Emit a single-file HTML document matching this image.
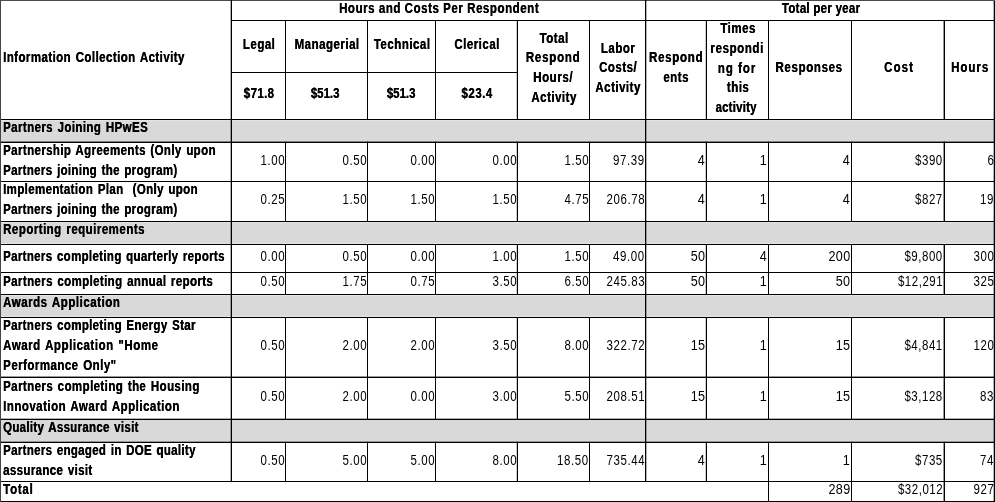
<!DOCTYPE html>
<html><head><meta charset="utf-8"><title>Burden table</title>
<style>
html,body{margin:0;padding:0;background:#fff}
body{width:995px;height:502px;position:relative;overflow:hidden;font-family:"Liberation Sans",sans-serif;font-size:14px;color:#000}
.r{position:absolute}
.t{position:absolute;white-space:nowrap;line-height:20px;height:20px}
.b{font-weight:bold;letter-spacing:0.62px;text-shadow:0.35px 0 0 #000}
.n{font-weight:normal;letter-spacing:0.75px}
.c{text-align:center}
.w{word-spacing:1.2px}
</style></head><body>
<svg class="r" style="left:0;top:0" width="995" height="502" viewBox="0 0 995 502"><rect x="0" y="120.3" width="995" height="21.7" fill="#d9d9d9"/>
<rect x="0" y="222.3" width="995" height="21.4" fill="#d9d9d9"/>
<rect x="0" y="295.3" width="995" height="21.4" fill="#d9d9d9"/>
<rect x="0" y="419.5" width="995" height="22.5" fill="#d9d9d9"/>
<rect x="0" y="0" width="995" height="1" fill="#4c4c4c"/>
<rect x="0" y="119" width="995" height="1" fill="#000"/>
<rect x="0" y="141.6" width="995" height="1.4" fill="#000"/>
<rect x="0" y="181" width="995" height="1" fill="#000"/>
<rect x="0" y="221" width="995" height="1" fill="#000"/>
<rect x="0" y="244" width="995" height="1" fill="#000"/>
<rect x="0" y="272" width="995" height="1" fill="#000"/>
<rect x="0" y="294" width="995" height="1" fill="#000"/>
<rect x="0" y="317" width="995" height="1" fill="#000"/>
<rect x="0" y="376.6" width="995" height="1.4" fill="#000"/>
<rect x="0" y="418.7" width="995" height="1.3" fill="#000"/>
<rect x="0" y="441.7" width="995" height="1.3" fill="#000"/>
<rect x="0" y="481" width="995" height="1" fill="#000"/>
<rect x="0" y="501" width="995" height="1" fill="#000"/>
<rect x="231" y="20" width="764" height="1" fill="#000"/>
<rect x="231" y="72" width="287" height="1" fill="#000"/>
<rect x="0" y="0" width="1" height="502" fill="#444"/>
<rect x="993.7" y="1" width="1.3" height="501" fill="#000"/>
<rect x="230.7" y="0" width="1.3" height="482" fill="#000"/>
<rect x="645" y="0" width="1.3" height="482" fill="#000"/>
<rect x="285" y="20" width="1" height="100" fill="#000"/>
<rect x="285" y="141.6" width="1" height="40.4" fill="#000"/>
<rect x="285" y="181" width="1" height="41" fill="#000"/>
<rect x="285" y="244" width="1" height="29" fill="#000"/>
<rect x="285" y="272" width="1" height="23" fill="#000"/>
<rect x="285" y="317" width="1" height="60.6" fill="#000"/>
<rect x="285" y="376.6" width="1" height="43.2" fill="#000"/>
<rect x="285" y="441.8" width="1" height="40.2" fill="#000"/>
<rect x="367" y="20" width="1" height="100" fill="#000"/>
<rect x="367" y="141.6" width="1" height="40.4" fill="#000"/>
<rect x="367" y="181" width="1" height="41" fill="#000"/>
<rect x="367" y="244" width="1" height="29" fill="#000"/>
<rect x="367" y="272" width="1" height="23" fill="#000"/>
<rect x="367" y="317" width="1" height="60.6" fill="#000"/>
<rect x="367" y="376.6" width="1" height="43.2" fill="#000"/>
<rect x="367" y="441.8" width="1" height="40.2" fill="#000"/>
<rect x="435" y="20" width="1" height="100" fill="#000"/>
<rect x="435" y="141.6" width="1" height="40.4" fill="#000"/>
<rect x="435" y="181" width="1" height="41" fill="#000"/>
<rect x="435" y="244" width="1" height="29" fill="#000"/>
<rect x="435" y="272" width="1" height="23" fill="#000"/>
<rect x="435" y="317" width="1" height="60.6" fill="#000"/>
<rect x="435" y="376.6" width="1" height="43.2" fill="#000"/>
<rect x="435" y="441.8" width="1" height="40.2" fill="#000"/>
<rect x="516.8" y="20" width="1.2" height="100" fill="#000"/>
<rect x="516.8" y="141.6" width="1.2" height="40.4" fill="#000"/>
<rect x="516.8" y="181" width="1.2" height="41" fill="#000"/>
<rect x="516.8" y="244" width="1.2" height="29" fill="#000"/>
<rect x="516.8" y="272" width="1.2" height="23" fill="#000"/>
<rect x="516.8" y="317" width="1.2" height="60.6" fill="#000"/>
<rect x="516.8" y="376.6" width="1.2" height="43.2" fill="#000"/>
<rect x="516.8" y="441.8" width="1.2" height="40.2" fill="#000"/>
<rect x="589" y="20" width="1" height="100" fill="#000"/>
<rect x="589" y="141.6" width="1" height="40.4" fill="#000"/>
<rect x="589" y="181" width="1" height="41" fill="#000"/>
<rect x="589" y="244" width="1" height="29" fill="#000"/>
<rect x="589" y="272" width="1" height="23" fill="#000"/>
<rect x="589" y="317" width="1" height="60.6" fill="#000"/>
<rect x="589" y="376.6" width="1" height="43.2" fill="#000"/>
<rect x="589" y="441.8" width="1" height="40.2" fill="#000"/>
<rect x="705.8" y="20" width="1.2" height="100" fill="#000"/>
<rect x="705.8" y="141.6" width="1.2" height="40.4" fill="#000"/>
<rect x="705.8" y="181" width="1.2" height="41" fill="#000"/>
<rect x="705.8" y="244" width="1.2" height="29" fill="#000"/>
<rect x="705.8" y="272" width="1.2" height="23" fill="#000"/>
<rect x="705.8" y="317" width="1.2" height="60.6" fill="#000"/>
<rect x="705.8" y="376.6" width="1.2" height="43.2" fill="#000"/>
<rect x="705.8" y="441.8" width="1.2" height="40.2" fill="#000"/>
<rect x="768" y="20" width="1" height="100" fill="#000"/>
<rect x="768" y="141.6" width="1" height="40.4" fill="#000"/>
<rect x="768" y="181" width="1" height="41" fill="#000"/>
<rect x="768" y="244" width="1" height="29" fill="#000"/>
<rect x="768" y="272" width="1" height="23" fill="#000"/>
<rect x="768" y="317" width="1" height="60.6" fill="#000"/>
<rect x="768" y="376.6" width="1" height="43.2" fill="#000"/>
<rect x="768" y="441.8" width="1" height="40.2" fill="#000"/>
<rect x="851" y="20" width="1" height="100" fill="#000"/>
<rect x="851" y="141.6" width="1" height="40.4" fill="#000"/>
<rect x="851" y="181" width="1" height="41" fill="#000"/>
<rect x="851" y="244" width="1" height="29" fill="#000"/>
<rect x="851" y="272" width="1" height="23" fill="#000"/>
<rect x="851" y="317" width="1" height="60.6" fill="#000"/>
<rect x="851" y="376.6" width="1" height="43.2" fill="#000"/>
<rect x="851" y="441.8" width="1" height="40.2" fill="#000"/>
<rect x="943.6" y="20" width="1.4" height="100" fill="#000"/>
<rect x="943.6" y="141.6" width="1.4" height="40.4" fill="#000"/>
<rect x="943.6" y="181" width="1.4" height="41" fill="#000"/>
<rect x="943.6" y="244" width="1.4" height="29" fill="#000"/>
<rect x="943.6" y="272" width="1.4" height="23" fill="#000"/>
<rect x="943.6" y="317" width="1.4" height="60.6" fill="#000"/>
<rect x="943.6" y="376.6" width="1.4" height="43.2" fill="#000"/>
<rect x="943.6" y="441.8" width="1.4" height="40.2" fill="#000"/>
<rect x="768" y="481" width="1" height="21" fill="#000"/>
<rect x="851" y="481" width="1" height="21" fill="#000"/>
<rect x="943.6" y="481" width="1.4" height="21" fill="#000"/></svg>
<span class="t b c" style="left:289.08px;top:-2px;width:300px;letter-spacing:0.69px;transform:scaleX(0.82);transform-origin:50% 0">Hours and Costs Per Respondent</span>
<span class="t b c" style="left:670.54px;top:-2px;width:300px;letter-spacing:0.34px;transform:scaleX(0.82);transform-origin:50% 0">Total per year</span>
<span class="t b c" style="left:108.75px;top:34px;width:300px;transform:scaleX(0.82);transform-origin:50% 0">Legal</span>
<span class="t b c" style="left:176.75px;top:34px;width:300px;transform:scaleX(0.82);transform-origin:50% 0">Managerial</span>
<span class="t b c" style="left:251.75px;top:34px;width:300px;transform:scaleX(0.82);transform-origin:50% 0">Technical</span>
<span class="t b c" style="left:326.75px;top:34px;width:300px;transform:scaleX(0.82);transform-origin:50% 0">Clerical</span>
<span class="t b c" style="left:109.2px;top:83px;width:300px;letter-spacing:0.5px;transform:scaleX(0.82);transform-origin:50% 0">$71.8</span>
<span class="t b c" style="left:175.48px;top:83px;width:300px;letter-spacing:-0.05px;transform:scaleX(0.82);transform-origin:50% 0">$51.3</span>
<span class="t b c" style="left:251.48px;top:83px;width:300px;letter-spacing:-0.05px;transform:scaleX(0.82);transform-origin:50% 0">$51.3</span>
<span class="t b c" style="left:326.75px;top:83px;width:300px;letter-spacing:0.62px;transform:scaleX(0.82);transform-origin:50% 0">$23.4</span>
<span class="t b c" style="left:403.55px;top:28px;width:300px;transform:scaleX(0.82);transform-origin:50% 0">Total</span>
<span class="t b c" style="left:403.39px;top:47px;width:300px;letter-spacing:0.95px;transform:scaleX(0.82);transform-origin:50% 0">Respond</span>
<span class="t b c" style="left:402.89px;top:67px;width:300px;letter-spacing:0.7px;transform:scaleX(0.82);transform-origin:50% 0">Hours/</span>
<span class="t b c" style="left:403.75px;top:87px;width:300px;transform:scaleX(0.82);transform-origin:50% 0">Activity</span>
<span class="t b c" style="left:467.75px;top:38px;width:300px;transform:scaleX(0.82);transform-origin:50% 0">Labor</span>
<span class="t b c" style="left:467.75px;top:57px;width:300px;transform:scaleX(0.82);transform-origin:50% 0">Costs/</span>
<span class="t b c" style="left:467.75px;top:77px;width:300px;transform:scaleX(0.82);transform-origin:50% 0">Activity</span>
<span class="t b c" style="left:526.37px;top:47px;width:300px;letter-spacing:0.9px;transform:scaleX(0.82);transform-origin:50% 0">Respond</span>
<span class="t b c" style="left:526.25px;top:67px;width:300px;transform:scaleX(0.82);transform-origin:50% 0">ents</span>
<span class="t b c" style="left:587.75px;top:18px;width:300px;transform:scaleX(0.82);transform-origin:50% 0">Times</span>
<span class="t b c" style="left:587.11px;top:38px;width:300px;letter-spacing:0.75px;transform:scaleX(0.82);transform-origin:50% 0">respondi</span>
<span class="t b c" style="left:586.79px;top:58px;width:300px;letter-spacing:1.2px;transform:scaleX(0.82);transform-origin:50% 0">ng for</span>
<span class="t b c" style="left:587.75px;top:77px;width:300px;transform:scaleX(0.82);transform-origin:50% 0">this</span>
<span class="t b c" style="left:586.4px;top:97px;width:300px;letter-spacing:0.25px;transform:scaleX(0.82);transform-origin:50% 0">activity</span>
<span class="t b c" style="left:659.24px;top:57px;width:300px;letter-spacing:0.82px;transform:scaleX(0.82);transform-origin:50% 0">Responses</span>
<span class="t b c" style="left:748.57px;top:57px;width:300px;letter-spacing:1.4px;transform:scaleX(0.82);transform-origin:50% 0">Cost</span>
<span class="t b c" style="left:819.89px;top:57px;width:300px;letter-spacing:1.2px;transform:scaleX(0.82);transform-origin:50% 0">Hours</span>
<span class="t b w" style="left:3.4px;top:47px;letter-spacing:0.538px;transform:scaleX(0.82);transform-origin:0 0">Information Collection Activity</span>
<span class="t b w" style="left:3.4px;top:117px;letter-spacing:0.502px;transform:scaleX(0.82);transform-origin:0 0">Partners Joining HPwES</span>
<span class="t b w" style="left:3.4px;top:140px;letter-spacing:0.487px;transform:scaleX(0.82);transform-origin:0 0">Partnership Agreements (Only upon</span>
<span class="t b w" style="left:3.4px;top:160px;letter-spacing:0.423px;transform:scaleX(0.82);transform-origin:0 0">Partners joining the program)</span>
<span class="t b w" style="left:3.4px;top:179px;letter-spacing:0.457px;transform:scaleX(0.82);transform-origin:0 0">Implementation Plan&nbsp; (Only upon</span>
<span class="t b w" style="left:3.4px;top:199px;letter-spacing:0.423px;transform:scaleX(0.82);transform-origin:0 0">Partners joining the program)</span>
<span class="t b w" style="left:3.4px;top:219px;letter-spacing:0.593px;transform:scaleX(0.82);transform-origin:0 0">Reporting requirements</span>
<span class="t b w" style="left:3.4px;top:246px;letter-spacing:0.418px;transform:scaleX(0.82);transform-origin:0 0">Partners completing quarterly reports</span>
<span class="t b w" style="left:3.4px;top:271px;letter-spacing:0.474px;transform:scaleX(0.82);transform-origin:0 0">Partners completing annual reports</span>
<span class="t b w" style="left:3.4px;top:292px;letter-spacing:0.657px;transform:scaleX(0.82);transform-origin:0 0">Awards Application</span>
<span class="t b w" style="left:3.4px;top:315px;letter-spacing:0.437px;transform:scaleX(0.82);transform-origin:0 0">Partners completing Energy Star</span>
<span class="t b w" style="left:3.4px;top:335px;letter-spacing:0.676px;transform:scaleX(0.82);transform-origin:0 0">Award Application "Home</span>
<span class="t b w" style="left:3.4px;top:355px;letter-spacing:0.583px;transform:scaleX(0.82);transform-origin:0 0">Performance Only"</span>
<span class="t b w" style="left:3.4px;top:376px;letter-spacing:0.518px;transform:scaleX(0.82);transform-origin:0 0">Partners completing the Housing</span>
<span class="t b w" style="left:3.4px;top:396px;letter-spacing:0.599px;transform:scaleX(0.82);transform-origin:0 0">Innovation Award Application</span>
<span class="t b w" style="left:3.4px;top:417px;letter-spacing:0.371px;transform:scaleX(0.82);transform-origin:0 0">Quality Assurance visit</span>
<span class="t b w" style="left:3.4px;top:440px;letter-spacing:0.396px;transform:scaleX(0.82);transform-origin:0 0">Partners engaged in DOE quality</span>
<span class="t b w" style="left:3.4px;top:460px;letter-spacing:0.446px;transform:scaleX(0.82);transform-origin:0 0">assurance visit</span>
<span class="t b w" style="left:3.4px;top:479px;letter-spacing:0.925px;transform:scaleX(0.82);transform-origin:0 0">Total</span>
<span class="t n" style="right:709.78px;top:150px;transform:scaleX(0.82);transform-origin:100% 0">1.00</span>
<span class="t n" style="right:627.78px;top:150px;transform:scaleX(0.82);transform-origin:100% 0">0.50</span>
<span class="t n" style="right:559.78px;top:150px;transform:scaleX(0.82);transform-origin:100% 0">0.00</span>
<span class="t n" style="right:477.78px;top:150px;transform:scaleX(0.82);transform-origin:100% 0">0.00</span>
<span class="t n" style="right:405.78px;top:150px;transform:scaleX(0.82);transform-origin:100% 0">1.50</span>
<span class="t n" style="right:349.78px;top:150px;transform:scaleX(0.82);transform-origin:100% 0">97.39</span>
<span class="t n" style="right:289.94px;top:150px;letter-spacing:0.4px;transform:scaleX(0.9);transform-origin:100% 0">4</span>
<span class="t n" style="right:227.94px;top:150px;letter-spacing:0.4px;transform:scaleX(0.9);transform-origin:100% 0">1</span>
<span class="t n" style="right:144.94px;top:150px;letter-spacing:0.4px;transform:scaleX(0.9);transform-origin:100% 0">4</span>
<span class="t n" style="right:52.17px;top:150px;letter-spacing:0.65px;transform:scaleX(0.82);transform-origin:100% 0">$390</span>
<span class="t n" style="right:0.78px;top:150px;transform:scaleX(0.82);transform-origin:100% 0">6</span>
<span class="t n" style="right:709.78px;top:189px;transform:scaleX(0.82);transform-origin:100% 0">0.25</span>
<span class="t n" style="right:627.78px;top:189px;transform:scaleX(0.82);transform-origin:100% 0">1.50</span>
<span class="t n" style="right:559.78px;top:189px;transform:scaleX(0.82);transform-origin:100% 0">1.50</span>
<span class="t n" style="right:477.78px;top:189px;transform:scaleX(0.82);transform-origin:100% 0">1.50</span>
<span class="t n" style="right:405.78px;top:189px;transform:scaleX(0.82);transform-origin:100% 0">4.75</span>
<span class="t n" style="right:349.78px;top:189px;transform:scaleX(0.82);transform-origin:100% 0">206.78</span>
<span class="t n" style="right:289.94px;top:189px;letter-spacing:0.4px;transform:scaleX(0.9);transform-origin:100% 0">4</span>
<span class="t n" style="right:227.94px;top:189px;letter-spacing:0.4px;transform:scaleX(0.9);transform-origin:100% 0">1</span>
<span class="t n" style="right:144.94px;top:189px;letter-spacing:0.4px;transform:scaleX(0.9);transform-origin:100% 0">4</span>
<span class="t n" style="right:52.17px;top:189px;letter-spacing:0.65px;transform:scaleX(0.82);transform-origin:100% 0">$827</span>
<span class="t n" style="right:0.78px;top:189px;transform:scaleX(0.82);transform-origin:100% 0">19</span>
<span class="t n" style="right:709.78px;top:246px;transform:scaleX(0.82);transform-origin:100% 0">0.00</span>
<span class="t n" style="right:627.78px;top:246px;transform:scaleX(0.82);transform-origin:100% 0">0.50</span>
<span class="t n" style="right:559.78px;top:246px;transform:scaleX(0.82);transform-origin:100% 0">0.00</span>
<span class="t n" style="right:477.78px;top:246px;transform:scaleX(0.82);transform-origin:100% 0">1.00</span>
<span class="t n" style="right:405.78px;top:246px;transform:scaleX(0.82);transform-origin:100% 0">1.50</span>
<span class="t n" style="right:349.78px;top:246px;transform:scaleX(0.82);transform-origin:100% 0">49.00</span>
<span class="t n" style="right:289.94px;top:246px;letter-spacing:0.4px;transform:scaleX(0.9);transform-origin:100% 0">50</span>
<span class="t n" style="right:227.94px;top:246px;letter-spacing:0.4px;transform:scaleX(0.9);transform-origin:100% 0">4</span>
<span class="t n" style="right:144.94px;top:246px;letter-spacing:0.4px;transform:scaleX(0.9);transform-origin:100% 0">200</span>
<span class="t n" style="right:52.17px;top:246px;letter-spacing:0.65px;transform:scaleX(0.82);transform-origin:100% 0">$9,800</span>
<span class="t n" style="right:0.78px;top:246px;transform:scaleX(0.82);transform-origin:100% 0">300</span>
<span class="t n" style="right:709.78px;top:271px;transform:scaleX(0.82);transform-origin:100% 0">0.50</span>
<span class="t n" style="right:627.78px;top:271px;transform:scaleX(0.82);transform-origin:100% 0">1.75</span>
<span class="t n" style="right:559.78px;top:271px;transform:scaleX(0.82);transform-origin:100% 0">0.75</span>
<span class="t n" style="right:477.78px;top:271px;transform:scaleX(0.82);transform-origin:100% 0">3.50</span>
<span class="t n" style="right:405.78px;top:271px;transform:scaleX(0.82);transform-origin:100% 0">6.50</span>
<span class="t n" style="right:349.78px;top:271px;transform:scaleX(0.82);transform-origin:100% 0">245.83</span>
<span class="t n" style="right:289.94px;top:271px;letter-spacing:0.4px;transform:scaleX(0.9);transform-origin:100% 0">50</span>
<span class="t n" style="right:227.94px;top:271px;letter-spacing:0.4px;transform:scaleX(0.9);transform-origin:100% 0">1</span>
<span class="t n" style="right:144.94px;top:271px;letter-spacing:0.4px;transform:scaleX(0.9);transform-origin:100% 0">50</span>
<span class="t n" style="right:52.17px;top:271px;letter-spacing:0.65px;transform:scaleX(0.82);transform-origin:100% 0">$12,291</span>
<span class="t n" style="right:0.78px;top:271px;transform:scaleX(0.82);transform-origin:100% 0">325</span>
<span class="t n" style="right:709.78px;top:335px;transform:scaleX(0.82);transform-origin:100% 0">0.50</span>
<span class="t n" style="right:627.78px;top:335px;transform:scaleX(0.82);transform-origin:100% 0">2.00</span>
<span class="t n" style="right:559.78px;top:335px;transform:scaleX(0.82);transform-origin:100% 0">2.00</span>
<span class="t n" style="right:477.78px;top:335px;transform:scaleX(0.82);transform-origin:100% 0">3.50</span>
<span class="t n" style="right:405.78px;top:335px;transform:scaleX(0.82);transform-origin:100% 0">8.00</span>
<span class="t n" style="right:349.78px;top:335px;transform:scaleX(0.82);transform-origin:100% 0">322.72</span>
<span class="t n" style="right:289.94px;top:335px;letter-spacing:0.4px;transform:scaleX(0.9);transform-origin:100% 0">15</span>
<span class="t n" style="right:227.94px;top:335px;letter-spacing:0.4px;transform:scaleX(0.9);transform-origin:100% 0">1</span>
<span class="t n" style="right:144.94px;top:335px;letter-spacing:0.4px;transform:scaleX(0.9);transform-origin:100% 0">15</span>
<span class="t n" style="right:52.17px;top:335px;letter-spacing:0.65px;transform:scaleX(0.82);transform-origin:100% 0">$4,841</span>
<span class="t n" style="right:0.78px;top:335px;transform:scaleX(0.82);transform-origin:100% 0">120</span>
<span class="t n" style="right:709.78px;top:386px;transform:scaleX(0.82);transform-origin:100% 0">0.50</span>
<span class="t n" style="right:627.78px;top:386px;transform:scaleX(0.82);transform-origin:100% 0">2.00</span>
<span class="t n" style="right:559.78px;top:386px;transform:scaleX(0.82);transform-origin:100% 0">0.00</span>
<span class="t n" style="right:477.78px;top:386px;transform:scaleX(0.82);transform-origin:100% 0">3.00</span>
<span class="t n" style="right:405.78px;top:386px;transform:scaleX(0.82);transform-origin:100% 0">5.50</span>
<span class="t n" style="right:349.78px;top:386px;transform:scaleX(0.82);transform-origin:100% 0">208.51</span>
<span class="t n" style="right:289.94px;top:386px;letter-spacing:0.4px;transform:scaleX(0.9);transform-origin:100% 0">15</span>
<span class="t n" style="right:227.94px;top:386px;letter-spacing:0.4px;transform:scaleX(0.9);transform-origin:100% 0">1</span>
<span class="t n" style="right:144.94px;top:386px;letter-spacing:0.4px;transform:scaleX(0.9);transform-origin:100% 0">15</span>
<span class="t n" style="right:52.17px;top:386px;letter-spacing:0.65px;transform:scaleX(0.82);transform-origin:100% 0">$3,128</span>
<span class="t n" style="right:0.78px;top:386px;transform:scaleX(0.82);transform-origin:100% 0">83</span>
<span class="t n" style="right:709.78px;top:450px;transform:scaleX(0.82);transform-origin:100% 0">0.50</span>
<span class="t n" style="right:627.78px;top:450px;transform:scaleX(0.82);transform-origin:100% 0">5.00</span>
<span class="t n" style="right:559.78px;top:450px;transform:scaleX(0.82);transform-origin:100% 0">5.00</span>
<span class="t n" style="right:477.78px;top:450px;transform:scaleX(0.82);transform-origin:100% 0">8.00</span>
<span class="t n" style="right:405.78px;top:450px;transform:scaleX(0.82);transform-origin:100% 0">18.50</span>
<span class="t n" style="right:349.78px;top:450px;transform:scaleX(0.82);transform-origin:100% 0">735.44</span>
<span class="t n" style="right:289.94px;top:450px;letter-spacing:0.4px;transform:scaleX(0.9);transform-origin:100% 0">4</span>
<span class="t n" style="right:227.94px;top:450px;letter-spacing:0.4px;transform:scaleX(0.9);transform-origin:100% 0">1</span>
<span class="t n" style="right:144.94px;top:450px;letter-spacing:0.4px;transform:scaleX(0.9);transform-origin:100% 0">1</span>
<span class="t n" style="right:52.17px;top:450px;letter-spacing:0.65px;transform:scaleX(0.82);transform-origin:100% 0">$735</span>
<span class="t n" style="right:0.78px;top:450px;transform:scaleX(0.82);transform-origin:100% 0">74</span>
<span class="t n" style="right:144.94px;top:479px;letter-spacing:0.4px;transform:scaleX(0.9);transform-origin:100% 0">289</span>
<span class="t n" style="right:52.17px;top:479px;letter-spacing:0.65px;transform:scaleX(0.82);transform-origin:100% 0">$32,012</span>
<span class="t n" style="right:0.78px;top:479px;transform:scaleX(0.82);transform-origin:100% 0">927</span>
</body></html>
